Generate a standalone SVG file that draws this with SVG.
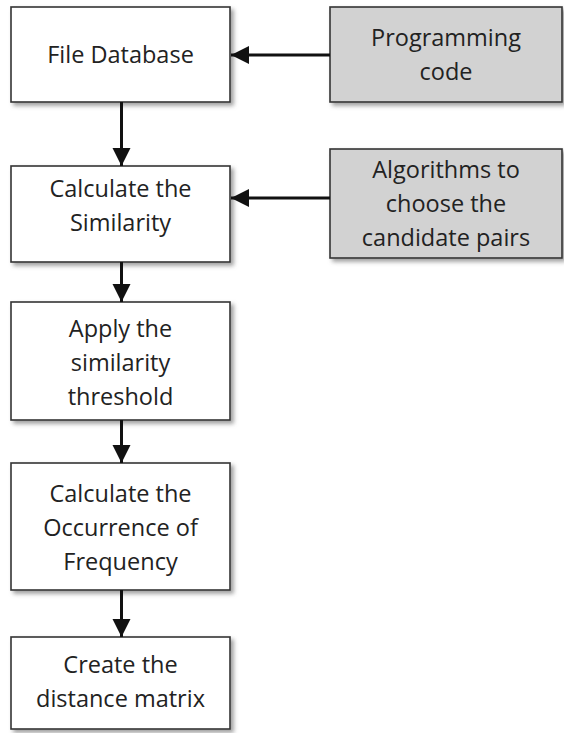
<svg xmlns="http://www.w3.org/2000/svg" width="564" height="733" viewBox="0 0 564 733">
<defs>
<filter id="sh" x="-10%" y="-10%" width="130%" height="130%">
<feDropShadow dx="3" dy="3" stdDeviation="2" flood-color="#777" flood-opacity="0.7"/>
</filter>
<marker id="ah" viewBox="0 0 10 10" refX="10" refY="5" markerWidth="6" markerHeight="6.5" markerUnits="strokeWidth" orient="auto">
<path d="M0,0 L10,5 L0,10 z" fill="#111"/>
</marker>
</defs>
<style>
.box{fill:#fff;stroke:#333;stroke-width:1.6;filter:url(#sh)}
.gbox{fill:#d2d2d2;stroke:#333;stroke-width:1.6;filter:url(#sh)}
text{font-family:"Open Sans","Noto Sans",sans-serif;font-size:23.5px;fill:#222;text-anchor:middle}
.c{fill:none;stroke:#111;stroke-width:3;marker-end:url(#ah)}
</style>
<g id="file-database">
<rect class="box" x="11" y="7" width="219" height="95"/>
<text x="120.5" y="63">File Database</text>
</g>
<g id="programming-code">
<rect class="gbox" x="330" y="7" width="232" height="95"/>
<text x="446" y="46">Programming</text>
<text x="446" y="80">code</text>
</g>
<g id="calculate-similarity">
<rect class="box" x="11" y="166" width="219" height="96"/>
<text x="120.5" y="197">Calculate the</text>
<text x="120.5" y="231">Similarity</text>
</g>
<g id="algorithms">
<rect class="gbox" x="330" y="149" width="232" height="109"/>
<text x="446" y="178">Algorithms to</text>
<text x="446" y="212">choose the</text>
<text x="446" y="246">candidate pairs</text>
</g>
<g id="apply-threshold">
<rect class="box" x="11" y="302" width="219" height="118"/>
<text x="120.5" y="337">Apply the</text>
<text x="120.5" y="371">similarity</text>
<text x="120.5" y="405">threshold</text>
</g>
<g id="occurrence">
<rect class="box" x="11" y="463" width="219" height="127"/>
<text x="120.5" y="502">Calculate the</text>
<text x="120.5" y="536">Occurrence of</text>
<text x="120.5" y="570">Frequency</text>
</g>
<g id="distance-matrix">
<rect class="box" x="11" y="637" width="219" height="92"/>
<text x="120.5" y="673">Create the</text>
<text x="120.5" y="707">distance matrix</text>
</g>
<g id="connectors">
<path class="c" d="M330,55 H231"/>
<path class="c" d="M330,198 H231"/>
<path class="c" d="M121.5,102 V166"/>
<path class="c" d="M121.5,262 V302"/>
<path class="c" d="M121.5,420 V463"/>
<path class="c" d="M121.5,590 V637"/>
</g>
</svg>
